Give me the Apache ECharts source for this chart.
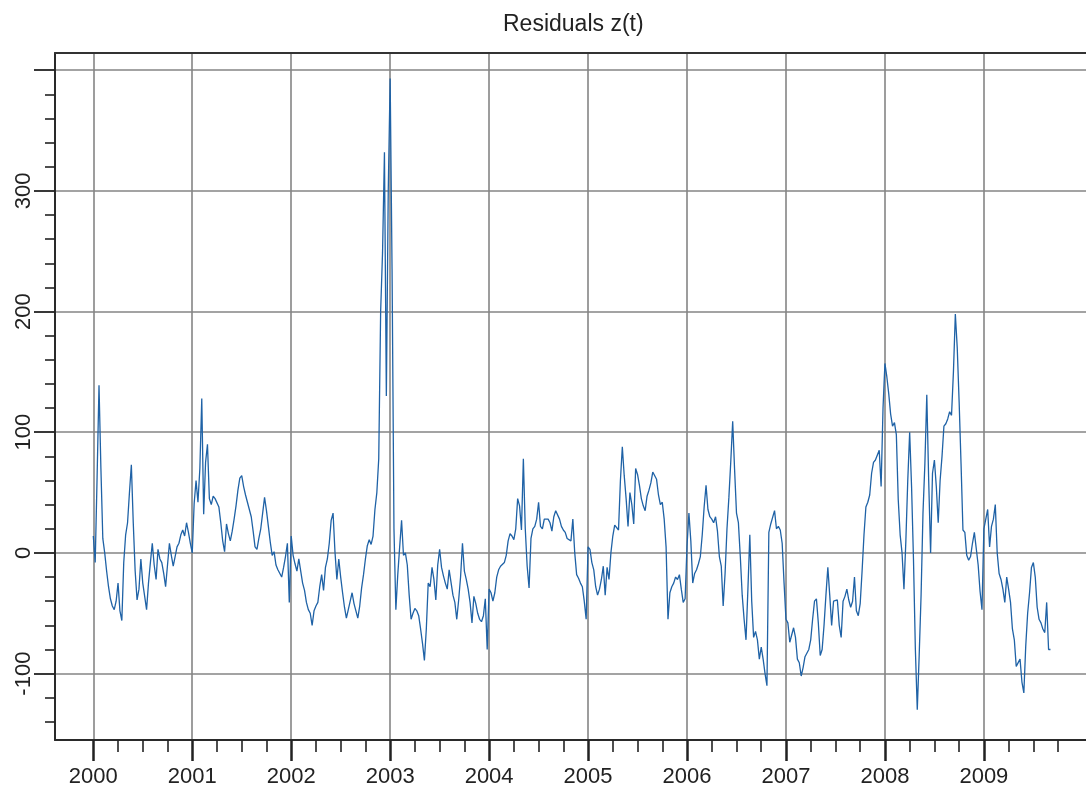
<!DOCTYPE html>
<html>
<head>
<meta charset="utf-8">
<title>Residuals z(t)</title>
<script src="https://cdn.jsdelivr.net/npm/echarts@6/dist/echarts.min.js"></script>
<style>
  html, body { margin: 0; padding: 0; background: #ffffff; }
  #chart { width: 1086px; height: 791px; }
</style>
</head>
<body>
<div id="chart"></div>
<script>
// Weekly residuals z(t), one array per calendar year (52 weeks each)
const z2000 = [14, -8, 63, 139, 70, 12, 0, -15, -28, -38, -44, -47, -40, -25, -48, -56, -8, 15, 25, 50, 73, 25, -15, -39, -30, -5, -25, -36, -47, -25, -8, 8, -10, -22, 3, -5, -8, -17, -28, -10, 8, -2, -11, -3, 5, 8, 15, 19, 14, 25, 17, 8];
const z2001 = [0, 41, 60, 42, 70, 128, 32, 75, 90, 45, 40, 47, 45, 44, 38, 25, 10, 1, 24, 16, 10, 18, 28, 39, 52, 62, 64, 55, 48, 42, 36, 30, 18, 5, 3, 12, 20, 33, 46, 35, 22, 9, -2, 1, -10, -14, -15, -20, -12, -3, 8, -41];
const z2002 = [14, -2, -9, -15, -5, -15, -25, -31, -41, -47, -50, -60, -48, -44, -41, -28, -18, -31, -12, -5, 8, 27, 33, 1, -22, -5, -20, -33, -45, -54, -47, -40, -33, -42, -48, -54, -44, -29, -18, -5, 6, 11, 7, 14, 36, 50, 78, 200, 249, 332, 130, 300];
const z2003 = [393, 235, 20, -47, -18, 5, 27, -2, 0, -10, -35, -55, -50, -46, -48, -52, -63, -75, -89, -63, -25, -28, -12, -22, -39, -10, 3, -12, -19, -25, -30, -14, -15, -35, -41, -55, -39, -20, 8, -15, -22, -30, -41, -58, -36, -42, -50, -55, -57, -52, -38, -80];
const z2004 = [-30, -33, -40, -33, -20, -14, -11, -10, -8, -2, 10, 16, 14, 11, 20, 45, 39, 19, 78, 20, -11, -29, 12, 20, 22, 28, 42, 22, 20, 28, 29, 28, 25, 18, 30, 35, 34, 28, 22, 19, 17, 12, 11, 10, 28, 0, -18, -21, -25, -28, -40, -55];
const z2005 = [5, 3, -8, -14, -28, -35, -30, -22, -11, -35, -12, -22, 0, 14, 23, 22, 19, 60, 88, 64, 45, 22, 50, 40, 24, 70, 65, 56, 45, 39, 35, 47, 52, 58, 67, 66, 61, 48, 40, 42, 28, 5, -55, -33, -28, -25, -20, -22, -18, -30, -41, -38];
const z2006 = [6, 33, 10, -25, -17, -14, -9, -3, 15, 38, 56, 36, 30, 28, 25, 30, 18, -3, -11, -44, -17, 20, 46, 76, 109, 69, 33, 25, -3, -35, -55, -72, -30, 15, -40, -70, -65, -72, -88, -78, -88, -100, -110, 17, 24, 25, 35, 20, 22, 19, 8, -25];
const z2007 = [-55, -58, -74, -75, -62, -70, -88, -91, -102, -95, -86, -85, -80, -72, -55, -40, -38, -58, -85, -80, -60, -35, -12, -35, -60, -40, -40, -39, -60, -70, -40, -36, -30, -39, -45, -40, -20, -48, -52, -42, -15, 15, 38, 42, 48, 66, 75, 77, 78, 85, 55, 120];
const z2008 = [157, 146, 132, 115, 105, 108, 98, 44, 15, 0, -30, 10, 60, 100, 55, -5, -80, -130, -85, -35, 33, 74, 131, 60, 0, 66, 77, 55, 25, 60, 80, 105, 107, 111, 117, 114, 150, 198, 170, 125, 74, 19, 17, -2, -6, -3, 8, 17, 17, -10, -32, -47];
const z2009 = [20, 20, 36, 5, 22, 28, 40, 0, -17, -22, -30, -41, -20, -30, -41, -63, -72, -94, -94, -88, -107, -116, -77, -50, -33, -12, -8, -20, -45, -55, -58, -63, -66, -41, -80, -80];

const years = [2000, 2001, 2002, 2003, 2004, 2005, 2006, 2007, 2008, 2009];
const yearValues = [z2000, z2001, z2002, z2003, z2004, z2005, z2006, z2007, z2008, z2009];

// Tick positions
const yearTicks = years.slice();
const quarterTicks = [];
years.forEach(y => { quarterTicks.push(y + 0.25, y + 0.5, y + 0.75); });
const yMajorTicks = [-100, 0, 100, 200, 300, 400];
const yLabelTicks = [-100, 0, 100, 200, 300];
const yMinorTicks = [];
for (let v = -140; v <= 380; v += 20) { if (v % 100 !== 0) yMinorTicks.push(v); }

// Build [decimal year, value] pairs
const points = [];
yearValues.forEach((vals, k) => {
  vals.forEach((v, i) => points.push([years[k] + i / 52, v]));
});

const X_MIN = 1999.613, X_MAX = 2010.032;
const Y_MIN = -155, Y_MAX = 414.2;
const FONT = 'Liberation Sans, Arial, sans-serif';
const INK = '#222222';
const GRID_GRAY = '#858585';

const chart = echarts.init(document.getElementById('chart'), null, { renderer: 'canvas' });

const baseX = {
  type: 'value', min: X_MIN, max: X_MAX, position: 'bottom'
};
const baseY = {
  type: 'value', min: Y_MIN, max: Y_MAX, position: 'left'
};

chart.setOption({
  animation: false,
  backgroundColor: '#ffffff',
  title: {
    text: 'Residuals z(t)',
    left: 498, top: 8,
    textStyle: { fontFamily: FONT, fontSize: 23, fontWeight: 'normal', color: INK }
  },
  grid: { left: 55, right: 0, top: 53, bottom: 51, containLabel: false, outerBoundsMode: 'none' },
  xAxis: [
    Object.assign({}, baseX, {
      axisLine: { show: true, onZero: false, lineStyle: { color: '#2a2a2a', width: 2 } },
      axisTick: { show: true, customValues: yearTicks, length: 21, inside: false,
                  lineStyle: { color: INK, width: 2.5 } },
      axisLabel: { show: true, customValues: yearTicks, margin: 26,
                   fontFamily: FONT, fontSize: 22, color: INK,
                   formatter: v => String(Math.round(v)) },
      splitLine: { show: true, lineStyle: { color: GRID_GRAY, width: 1.6 } },
      minorTick: { show: false }
    }),
    Object.assign({}, baseX, {
      axisLine: { show: false, onZero: false },
      axisTick: { show: true, customValues: quarterTicks, length: 12, inside: false,
                  lineStyle: { color: INK, width: 1.6 } },
      axisLabel: { show: false },
      splitLine: { show: false }
    }),
    Object.assign({}, baseX, {
      position: 'top',
      axisLine: { show: true, onZero: false, lineStyle: { color: '#333333', width: 2 } },
      axisTick: { show: false },
      axisLabel: { show: false },
      splitLine: { show: false }
    })
  ],
  yAxis: [
    Object.assign({}, baseY, {
      axisLine: { show: true, onZero: false, lineStyle: { color: '#2a2a2a', width: 2 } },
      axisTick: { show: true, customValues: yMajorTicks, length: 21, inside: false,
                  lineStyle: { color: INK, width: 1.8 } },
      axisLabel: { show: true, customValues: yLabelTicks, rotate: 90, margin: 20,
                   fontFamily: FONT, fontSize: 22, color: INK },
      splitLine: { show: true, lineStyle: { color: GRID_GRAY, width: 1.6 } }
    }),
    Object.assign({}, baseY, {
      axisLine: { show: false, onZero: false },
      axisTick: { show: true, customValues: yMinorTicks, length: 10, inside: false,
                  lineStyle: { color: INK, width: 1.6 } },
      axisLabel: { show: false },
      splitLine: { show: false }
    })
  ],
  series: [{
    type: 'line',
    name: 'z(t)',
    xAxisIndex: 0,
    yAxisIndex: 0,
    data: points,
    showSymbol: false,
    symbol: 'none',
    clip: true,
    lineStyle: { color: '#1f62a6', width: 1.3 },
    z: 5
  }]
});
</script>
</body>
</html>
